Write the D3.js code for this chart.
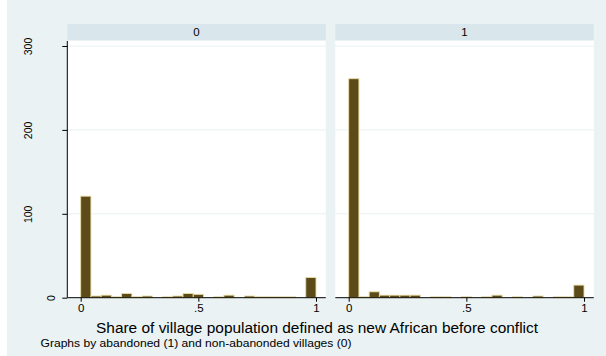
<!DOCTYPE html>
<html>
<head>
<meta charset="utf-8">
<script src="https://cdn.jsdelivr.net/npm/d3@7"></script>
<style>
  html, body { margin: 0; padding: 0; background: #ffffff; }
  svg { display: block; font-family: "Liberation Sans", Arial, Helvetica, sans-serif; }
</style>
</head>
<body>
<svg id="chart" width="606" height="356"></svg>
<script>
// Histogram of the share of new-African population, by village group
const groups = ["0", "1"];
const binCount = 23;
const countsGroup0 = [121, 2, 3, 1, 5, 1, 2, 0, 1, 2, 5, 4, 0, 1, 3, 0, 2, 1, 1, 1, 1, 0, 24];
const countsGroup1 = [261, 1, 7, 3, 3, 3, 3, 0, 1, 1, 0, 1, 0, 1, 3, 0, 1, 0, 2, 0, 1, 1, 15];
const xTicks = [0, 0.5, 1];
const xTickLabels = ["0", ".5", "1"];
const yTicks = [0, 100, 200, 300];
const xTitle = "Share of village population defined as new African before conflict";
const noteText = "Graphs by abandoned (1) and non-abanonded villages (0)";

const seriesByGroup = [countsGroup0, countsGroup1];

const W = 606, H = 356;
const svg = d3.select("#chart");

// Stata s2color look
const bgColor = "#eaf2f3";
const stripColor = "#d9e6eb";
const gridColor = "#e9f1f2";
const barFill = "#5c4a19";
const barStroke = "#e6dda6";

svg.append("rect").attr("x", 0).attr("y", 0).attr("width", W).attr("height", H).attr("fill", "#ffffff");
svg.append("rect").attr("x", 7).attr("y", 0).attr("width", W - 7).attr("height", H).attr("fill", bgColor);

// panel geometry
const panelLefts = [67.3, 335.3];
const panelWidth = 258.5;
const stripTop = 24, stripBottom = 40;
const plotTop = 41, plotBottom = 297.7;

const y = d3.scaleLinear().domain([0, 300]).range([plotBottom, 46]);

const edges = d3.range(binCount + 1).map(i => i / binCount);

groups.forEach((g, gi) => {
  const left = panelLefts[gi];
  const x = d3.scaleLinear().domain([0, 1]).range([left + 13.4, left + 248.7]);
  const panel = svg.append("g");

  // header strip with group label
  panel.append("rect")
    .attr("x", left).attr("y", stripTop)
    .attr("width", panelWidth).attr("height", stripBottom - stripTop)
    .attr("fill", stripColor);
  panel.append("text")
    .attr("x", left + panelWidth / 2).attr("y", 36)
    .attr("text-anchor", "middle")
    .attr("font-size", 11.5).attr("fill", "#000")
    .text(g);

  // plot region
  panel.append("rect")
    .attr("x", left).attr("y", plotTop)
    .attr("width", panelWidth).attr("height", plotBottom - plotTop)
    .attr("fill", "#ffffff");

  // horizontal grid lines
  panel.selectAll("line.grid")
    .data(yTicks.filter(t => t > 0))
    .join("line")
    .attr("class", "grid")
    .attr("x1", left).attr("x2", left + panelWidth)
    .attr("y1", d => y(d)).attr("y2", d => y(d))
    .attr("stroke", gridColor).attr("stroke-width", 1);

  // bars
  const counts = seriesByGroup[gi];
  panel.selectAll("rect.bar")
    .data(counts.map((c, i) => ({ c, x0: edges[i], x1: edges[i + 1] })).filter(d => d.c > 0))
    .join("rect")
    .attr("class", "bar")
    .attr("x", d => x(d.x0))
    .attr("width", d => x(d.x1) - x(d.x0))
    .attr("y", d => y(d.c))
    .attr("height", d => y(0) - y(d.c))
    .attr("fill", barFill)
    .attr("stroke", barStroke)
    .attr("stroke-width", 0.9);

  // x axis
  const xAxis = d3.axisBottom(x)
    .tickValues(xTicks)
    .tickFormat((d, i) => xTickLabels[i])
    .tickSizeInner(4).tickSizeOuter(0).tickPadding(2);
  const gx = panel.append("g")
    .attr("transform", `translate(0,${plotBottom})`)
    .call(xAxis);
  gx.select(".domain").attr("d", `M${left},0H${left + panelWidth}`).attr("stroke", "#000");
  gx.selectAll(".tick line").attr("stroke", "#000");
  gx.selectAll(".tick text")
    .attr("font-size", 11.5).attr("font-family", null).attr("fill", "#000");

  // y axis only on the first panel
  if (gi === 0) {
    const yAxis = d3.axisLeft(y).tickValues(yTicks).tickSizeInner(5).tickSizeOuter(0).tickFormat(d3.format("d"));
    const gy = panel.append("g")
      .attr("transform", `translate(${left},0)`)
      .call(yAxis);
    gy.select(".domain").attr("d", `M0,${plotTop}V${plotBottom}`).attr("stroke", "#000");
    gy.selectAll(".tick line").attr("stroke", "#000");
    gy.selectAll(".tick text").each(function(d) {
      const t = d3.select(this);
      t.attr("font-size", 10.5).attr("font-family", null).attr("fill", "#000")
        .attr("text-anchor", "middle").attr("dy", null).attr("x", null);
      const w = this.getComputedTextLength();
      const cx = -5 - 1.95 * w;
      t.attr("transform", `translate(${cx},0) rotate(-90)`)
        .attr("x", 0).attr("y", 0).attr("dy", "0.35em");
    });
  }
});

// axis title and note (set in a horizontally widened face)
svg.append("text")
  .attr("x", 96).attr("y", 332.5)
  .attr("font-size", 14).attr("fill", "#000")
  .attr("textLength", 442).attr("lengthAdjust", "spacingAndGlyphs")
  .text(xTitle);

svg.append("text")
  .attr("x", 40.5).attr("y", 346.5)
  .attr("font-size", 10).attr("fill", "#000")
  .attr("textLength", 311).attr("lengthAdjust", "spacingAndGlyphs")
  .text(noteText);
</script>
</body>
</html>
